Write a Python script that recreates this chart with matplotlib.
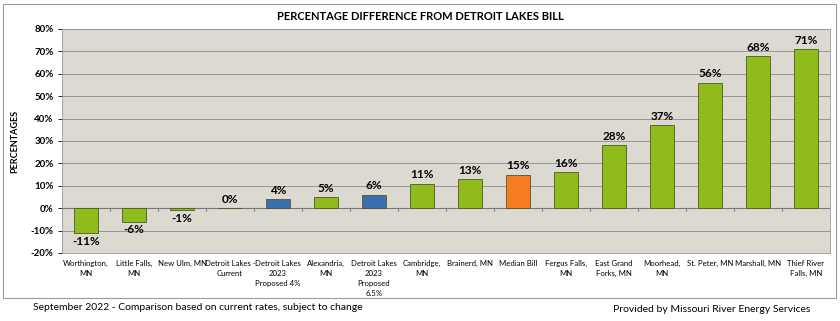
import numpy as np
import matplotlib.pyplot as plt
from matplotlib.patches import Rectangle

plt.rcParams['font.family'] = ['Lato', 'DejaVu Sans']

categories = ["Worthington,\nMN", "Little Falls,\nMN", "New Ulm, MN", "Detroit Lakes -\nCurrent",
              "Detroit Lakes\n2023\nProposed 4%", "Alexandria,\nMN", "Detroit Lakes\n2023\nProposed\n6.5%",
              "Cambridge,\nMN", "Brainerd, MN", "Median Bill", "Fergus Falls,\nMN", "East Grand\nForks, MN",
              "Moorhead,\nMN", "St. Peter, MN", "Marshall, MN", "Thief River\nFalls, MN"]
values = [-11, -6, -1, 0, 4, 5, 6, 11, 13, 15, 16, 28, 37, 56, 68, 71]
kinds = ["city", "city", "city", "dl", "dl", "city", "dl", "city", "city", "median",
         "city", "city", "city", "city", "city", "city"]
yticks = [-20, -10, 0, 10, 20, 30, 40, 50, 60, 70, 80]

colors = {"city": "#8fbc1c", "dl": "#3b6fb2", "median": "#f47b20"}

fig = plt.figure(figsize=(8.4, 3.21), dpi=100)
ax = fig.add_axes([62 / 840, 1 - 253 / 321, 768 / 840, 224 / 321])
ax.set_facecolor("#dcd9d1")

x = np.arange(len(values))
bars = ax.bar(x, values, width=0.5, color=[colors[k] for k in kinds],
              edgecolor="#4d5a22", linewidth=0.6, zorder=3)

for xi, v in zip(x, values):
    if v < 0:
        ax.text(xi, v - 1.2, f"{v}%", ha="center", va="top", fontsize=8.5, fontweight="bold")
    else:
        ax.text(xi, v + 1.5, f"{v}%", ha="center", va="bottom", fontsize=8.5, fontweight="bold")

ax.set_xlim(-0.5, len(values) - 0.5)
ax.set_ylim(-20, 80)
ax.set_yticks(yticks)
ax.set_yticklabels([f"{t}%" for t in yticks], fontsize=7, fontweight="bold")
ax.set_xticks(x)
ax.set_xticklabels(categories, fontsize=5.6, va="top", linespacing=1.5)
ax.tick_params(axis="x", length=0, pad=5)
ax.tick_params(axis="y", length=3, width=0.6, pad=3)
ax.grid(axis="y", color="#8a8a8a", linewidth=0.6, zorder=0)
ax.axhline(0, color="#777777", linewidth=0.8, zorder=2)
for b in np.arange(len(values) + 1) - 0.5:
    ax.plot([b, b], [0, -1.2], color="#777777", linewidth=0.6, zorder=2)
for s in ax.spines.values():
    s.set_color("#999999")
    s.set_linewidth(0.6)

ax.set_ylabel("PERCENTAGES", fontsize=6.5, fontweight="bold", labelpad=8)
fig.text(420 / 840, 1 - 16 / 321, "PERCENTAGE DIFFERENCE FROM DETROIT LAKES BILL",
         ha="center", va="center", fontsize=8, fontweight="bold")

fig.patches.append(Rectangle((3 / 840, 1 - 298 / 321), 833 / 840, 294 / 321,
                             transform=fig.transFigure, fill=False, edgecolor="#9a9a9a", linewidth=0.8))

fig.text(33 / 840, 1 - 308 / 321, "September 2022 - Comparison based on current rates, subject to change",
         ha="left", va="center", fontsize=7.5)
fig.text(810 / 840, 1 - 310 / 321, "Provided by Missouri River Energy Services",
         ha="right", va="center", fontsize=7.5)

fig.savefig("out.png", dpi=100)
